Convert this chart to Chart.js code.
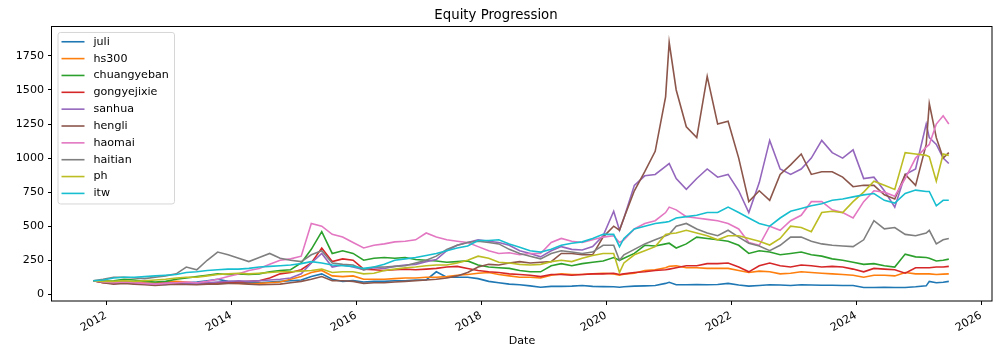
<!DOCTYPE html>
<html><head><meta charset="utf-8">
<script src="https://cdn.jsdelivr.net/npm/chart.js@4/dist/chart.umd.min.js"></script>
<style>html,body{margin:0;padding:0;background:#fff}canvas{display:block}</style>
</head><body>
<canvas id="c" width="1002" height="354"></canvas>
<script>
const dates = [
 '2011-10-18','2011-12-15',
 '2012-02-15','2012-04-15','2012-06-15','2012-08-15','2012-10-15','2012-12-15',
 '2013-02-15','2013-04-15','2013-06-15','2013-08-15','2013-10-15','2013-12-15',
 '2014-02-15','2014-04-15','2014-06-15','2014-08-15','2014-10-15','2014-12-15',
 '2015-02-15','2015-04-15','2015-06-15','2015-08-15','2015-10-15','2015-12-15',
 '2016-02-15','2016-04-15','2016-06-15','2016-08-15','2016-10-15','2016-12-15',
 '2017-02-15','2017-04-15','2017-06-15','2017-08-15','2017-10-15','2017-12-15',
 '2018-02-15','2018-04-15','2018-06-15','2018-08-15','2018-10-15','2018-12-15',
 '2019-02-15','2019-04-15','2019-06-15','2019-08-15','2019-10-15','2019-12-15',
 '2020-02-15','2020-03-20','2020-04-15','2020-06-15','2020-08-15','2020-10-15','2020-12-15',
 '2021-01-05','2021-02-15','2021-04-15','2021-06-15','2021-08-15','2021-10-15','2021-12-15',
 '2022-02-15','2022-04-15','2022-06-15','2022-08-15','2022-10-15','2022-12-15',
 '2023-02-15','2023-04-15','2023-06-15','2023-08-15','2023-10-15','2023-12-15',
 '2024-02-15','2024-04-15','2024-06-15','2024-08-15','2024-10-15','2024-12-15',
 '2025-02-15','2025-03-05','2025-04-15','2025-05-25','2025-06-27'
];

const juli = [100,95, 90,85,80,78,75,72, 80,85,90,100,110,95, 90,85,85,90,95,100,
 105,130,150,110,95,100, 90,95,95,100,100,105, 105,165,125,125,125,115, 95,85,75,70,62,52,
 58,58,60,65,58,56, 55,52,55,60,62,65,80, 88,70,70,72,70,72,80, 68,60,65,70,68,65,
 70,68,66,66,65,65, 50,50,52,50,50,55, 62,95,85,88,95];

const hs300 = [100,95, 90,95,90,85,82,90, 95,90,80,82,85,82, 80,78,80,85,90,110,
 130,160,175,135,130,135, 110,110,110,115,120,120, 125,125,130,140,145,155, 160,145,135,125,125,120,
 140,150,145,145,150,155, 150,140,148,155,175,180,195, 205,210,195,195,190,190,190, 175,160,170,165,150,155,
 165,160,155,150,145,140, 125,140,140,135,160,150, 150,150,145,148,150];

const chuangyeban = [100,95, 100,110,105,95,90,95, 110,120,130,140,150,145, 150,145,150,165,175,180,
 230,330,460,300,320,300, 250,265,270,265,270,255, 250,245,235,240,245,215, 200,195,190,175,165,165,
 210,225,210,225,235,245, 270,250,265,300,360,355,370, 375,340,370,420,410,400,390, 360,300,320,310,290,300,
 310,290,280,260,250,235, 220,225,210,200,295,275, 270,265,245,250,258];

const gongyejixie = [100,85, 80,85,80,75,75,80, 85,80,75,80,85,85, 90,95,100,120,150,160,
 180,230,340,240,260,250, 185,180,175,180,185,180, 185,190,200,205,190,175, 165,160,150,145,140,130,
 145,145,140,145,150,150, 155,145,150,160,165,175,180, 185,195,210,210,225,225,230, 200,165,210,230,210,200,
 215,210,200,205,200,185, 165,190,185,180,155,195, 195,195,200,200,205];

const sanhua = [100,90, 85,90,85,75,75,80, 85,80,80,85,90,95, 100,95,100,105,110,120,
 150,230,300,200,215,200, 180,195,190,205,215,220, 240,255,320,360,380,400, 390,380,360,320,300,275,
 320,350,330,325,350,430, 610,470,560,800,870,880,940, 960,850,770,850,920,860,880, 760,600,820,1130,920,880,
 920,1000,1130,1040,1000,1060, 850,860,760,640,880,920, 1250,1150,1100,1000,960];

const hengli = [100,85, 75,80,75,70,65,70, 75,72,70,75,75,80, 80,75,70,72,75,85,
 95,110,130,100,100,95, 80,85,85,90,95,100, 105,110,120,135,160,200, 220,215,230,240,230,235,
 240,300,300,290,290,420, 500,470,560,760,900,1050,1450, 1850,1500,1230,1150,1600,1250,1270, 1000,680,760,690,880,950,
 1030,880,900,900,860,790, 800,800,730,700,880,800, 1100,1400,1150,1000,1040];

const haomai = [100,90, 85,90,85,80,75,80, 85,90,85,95,110,130, 150,175,190,220,250,260,
 280,520,500,440,420,380, 340,360,370,385,390,400, 450,420,400,390,380,350, 320,300,305,290,300,300,
 380,410,390,380,400,420, 430,380,400,480,520,540,600, 640,620,570,560,550,540,520, 480,380,360,500,470,540,
 580,680,680,620,600,560, 680,760,750,720,850,1000, 1080,1100,1250,1310,1250];

const haitian = [100,110, 125,125,120,115,125,135, 150,200,180,250,310,290, 265,240,270,300,265,250,
 240,290,320,230,220,215, 180,200,200,205,210,230, 250,280,330,360,380,390, 380,370,330,300,280,260,
 300,320,310,300,310,360, 360,250,290,330,370,400,430, 440,500,520,480,450,430,470, 420,375,355,320,360,420,
 420,390,370,360,355,350, 400,540,480,490,440,430, 450,470,370,400,410];

const ph = [100,95, 95,100,95,100,105,110, 120,125,125,135,145,150, 155,150,155,160,165,165,
 170,175,185,160,165,165, 150,155,175,185,195,200, 210,215,215,230,250,280, 265,235,230,220,215,220,
 240,250,240,265,285,300, 300,160,230,290,320,350,440, 445,450,470,450,430,400,430, 430,410,390,362,410,500,
 490,460,600,610,600,680, 750,830,800,770,1040,1030, 1020,1010,830,1030,1020];

const itw = [100,105, 120,125,125,130,135,140, 145,160,165,175,180,185, 185,190,200,205,210,215,
 225,240,230,215,210,205, 190,200,220,250,260,270, 285,300,320,340,355,395, 395,400,370,345,320,310,
 330,360,375,385,410,440, 440,350,410,480,500,520,530, 535,560,570,580,600,600,640, 600,560,520,500,560,610,
 630,650,665,690,700,715, 730,740,690,670,740,765, 755,755,650,690,690];

const seriesNames = ['juli','hs300','chuangyeban','gongyejixie','sanhua','hengli','haomai','haitian','ph','itw'];
const seriesValues = [juli, hs300, chuangyeban, gongyejixie, sanhua, hengli, haomai, haitian, ph, itw];
const seriesColors = ['#1f77b4','#ff7f0e','#2ca02c','#d62728','#9467bd','#8c564b','#e377c2','#7f7f7f','#bcbd22','#17becf'];
const xTickValues = [2012,2014,2016,2018,2020,2022,2024,2026];
const yTickValues = [0,250,500,750,1000,1250,1500,1750];

function toYear(s){
  const p = s.split('-').map(Number);
  const t = Date.UTC(p[0], p[1]-1, p[2]), a = Date.UTC(p[0],0,1), b = Date.UTC(p[0]+1,0,1);
  return p[0] + (t-a)/(b-a);
}
const xs = dates.map(toYear);

const FONT = "'DejaVu Sans', sans-serif";
Chart.defaults.font.family = FONT;
Chart.defaults.color = '#000';

const datasets = seriesNames.map((name, i) => ({
  label: name,
  data: seriesValues[i].map((v, j) => ({x: xs[j], y: v})),
  borderColor: seriesColors[i],
  backgroundColor: seriesColors[i],
  borderWidth: 1.6,
  pointRadius: 0,
  tension: 0,
  fill: false,
  order: seriesNames.length - i
}));

const framePlugin = {
  id: 'frame',
  afterDatasetsDraw(chart) {
    const a = chart.chartArea, ctx = chart.ctx;
    ctx.save();
    ctx.strokeStyle = '#000';
    ctx.lineWidth = 1;
    ctx.strokeRect(Math.round(a.left) - 0.5, Math.round(a.top) + 0.5, Math.round(a.right - a.left) + 0.5, Math.round(a.bottom - a.top) - 0.5);
    ctx.restore();
  }
};

const legendPlugin = {
  id: 'boxLegend',
  afterDraw(chart) {
    const a = chart.chartArea, ctx = chart.ctx;
    const x0 = a.left + 6, y0 = a.top + 6.5, w = 116.5, h = 171.5, r = 2.5;
    ctx.save();
    ctx.beginPath();
    ctx.moveTo(x0 + r, y0);
    ctx.lineTo(x0 + w - r, y0); ctx.quadraticCurveTo(x0 + w, y0, x0 + w, y0 + r);
    ctx.lineTo(x0 + w, y0 + h - r); ctx.quadraticCurveTo(x0 + w, y0 + h, x0 + w - r, y0 + h);
    ctx.lineTo(x0 + r, y0 + h); ctx.quadraticCurveTo(x0, y0 + h, x0, y0 + h - r);
    ctx.lineTo(x0, y0 + r); ctx.quadraticCurveTo(x0, y0, x0 + r, y0);
    ctx.closePath();
    ctx.fillStyle = 'rgba(255,255,255,0.8)';
    ctx.fill();
    ctx.strokeStyle = '#d6d6d6';
    ctx.lineWidth = 1;
    ctx.stroke();
    ctx.font = '11.1px ' + FONT;
    ctx.textBaseline = 'middle';
    ctx.textAlign = 'left';
    chart.data.datasets.forEach((ds, i) => {
      const y = y0 + 9.3 + i * 16.85;
      ctx.beginPath();
      ctx.strokeStyle = ds.borderColor;
      ctx.lineWidth = 1.6;
      ctx.moveTo(x0 + 3.5, y);
      ctx.lineTo(x0 + 26.5, y);
      ctx.stroke();
      ctx.fillStyle = '#000';
      ctx.fillText(ds.label, x0 + 35.5, y);
    });
    ctx.restore();
  }
};

new Chart(document.getElementById('c'), {
  type: 'line',
  data: { datasets },
  plugins: [framePlugin, legendPlugin],
  options: {
    responsive: false,
    animation: false,
    devicePixelRatio: 1,
    layout: { padding: { left: 0, right: 10, top: 0, bottom: 0 } },
    plugins: {
      legend: { display: false },
      tooltip: { enabled: false },
      title: {
        display: true, text: 'Equity Progression', color: '#000',
        font: { family: FONT, size: 13.3, weight: 'normal' },
        padding: { top: 8, bottom: 2 }
      }
    },
    scales: {
      x: {
        type: 'linear', min: 2011.136, max: 2026.176,
        afterBuildTicks: s => { s.ticks = xTickValues.map(v => ({ value: v })); },
        afterFit: s => { s.height = 53; },
        ticks: { autoSkip: false, minRotation: 30, maxRotation: 30, padding: 4, color: '#000',
                 font: { size: 11.1 }, callback: v => String(v) },
        grid: { display: true, drawOnChartArea: false, drawTicks: true, tickLength: 4, color: '#000', lineWidth: 1 },
        border: { display: false },
        title: { display: true, text: 'Date', color: '#000', font: { size: 11.1 }, padding: { top: 0, bottom: 6 } }
      },
      y: {
        type: 'linear', min: -49.2, max: 1970,
        afterBuildTicks: s => { s.ticks = yTickValues.map(v => ({ value: v })); },
        afterFit: s => { s.width = 52; },
        ticks: { padding: 4, color: '#000', font: { size: 11.1 }, callback: v => String(v) },
        grid: { display: true, drawOnChartArea: false, drawTicks: true, tickLength: 4, color: '#000', lineWidth: 1 },
        border: { display: false }
      }
    }
  }
});
</script>
</body></html>
